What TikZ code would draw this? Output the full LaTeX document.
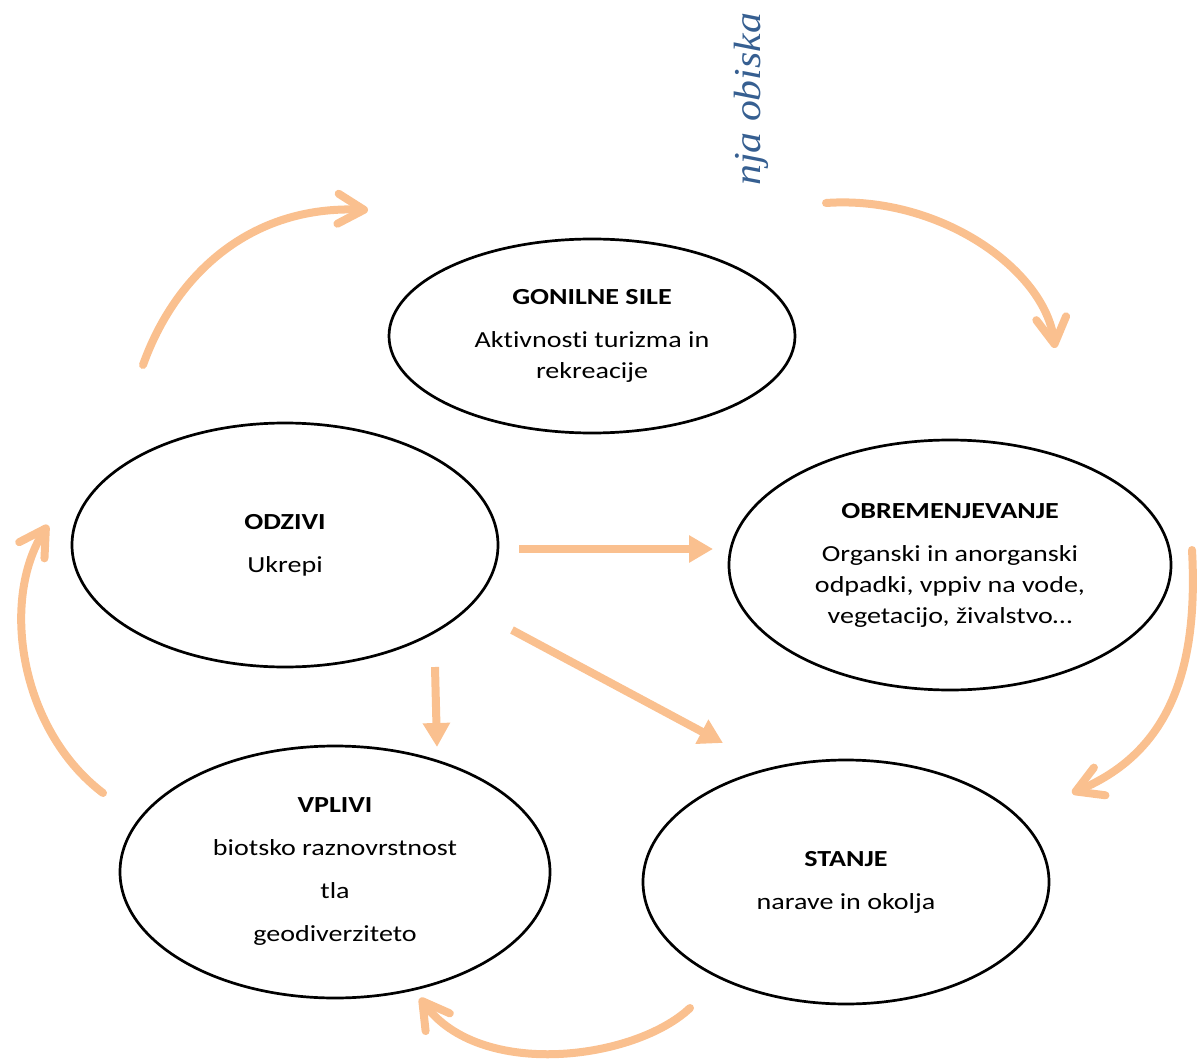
\documentclass[tikz,border=0pt]{standalone}
\usepackage{fontspec}
\setmainfont{Carlito}[FakeStretch=1.22, Ligatures=NoCommon]
\newfontfamily\headfont{Liberation Serif}[FakeStretch=1.1]
\usetikzlibrary{arrows.meta,shapes.geometric}
\definecolor{arr}{RGB}{250,192,143}
\definecolor{ttl}{RGB}{54,95,145}
\tikzset{
 stage/.style={ellipse, draw=black, line width=2.7pt, inner sep=0pt, align=center, font=\fontsize{23}{31}\selectfont},
 cyc/.style={draw=arr, line width=8pt, line cap=round, -{Straight Barb[length=26pt,width=30pt,round]}},
 push/.style={draw=arr, line width=8pt, -{Triangle[length=24pt,width=26pt]}},
}
\begin{document}
\begin{tikzpicture}[x=1pt,y=-1pt]
\useasboundingbox (0,0) rectangle (1197,1059);
% stages
\node[stage, minimum width=406pt, minimum height=194pt] (gon) at (592,336) {\textbf{GONILNE SILE}\\[12pt]Aktivnosti turizma in\\rekreacije};
\node[stage, minimum width=442pt, minimum height=250pt] (obr) at (950,565) {\textbf{OBREMENJEVANJE}\\[12pt]Organski in anorganski\\odpadki, vppiv na vode,\\vegetacijo, živalstvo…};
\node[stage, minimum width=426pt, minimum height=244pt] (odz) at (285,545) {\textbf{ODZIVI}\\[12pt]Ukrepi};
\node[stage, minimum width=430pt, minimum height=252pt] (vpl) at (335,872) {\textbf{VPLIVI}\\[12pt]biotsko raznovrstnost\\[12pt]tla\\[12pt]geodiverziteto};
\node[stage, minimum width=406pt, minimum height=244pt] (sta) at (846,882) {\textbf{STANJE}\\[12pt]narave in okolja};
% rotated title fragment
\node[rotate=90, anchor=base west, inner sep=0pt, text=ttl, font=\headfont\itshape\fontsize{38}{40}\selectfont] (title) at (760,186) {nja obiska};
% cycle arrow end points
\coordinate (c1s) at (143,365); \coordinate (c1e) at (368,210);
\coordinate (c2s) at (826,203); \coordinate (c2e) at (1055,348);
\coordinate (c3s) at (1192,550); \coordinate (c3e) at (1072,793);
\coordinate (c4s) at (690,1008); \coordinate (c4e) at (420,998);
\coordinate (c5s) at (103,793); \coordinate (c5e) at (48,525);
\draw[cyc] (c1s) .. controls (175,275) and (250,205) .. (c1e);
\draw[cyc] (c2s) .. controls (940,195) and (1045,270) .. (c2e);
\draw[cyc] (c3s) .. controls (1198,660) and (1175,750) .. (c3e);
\draw[cyc] (c4s) .. controls (635,1060) and (480,1080) .. (c4e);
\draw[cyc] (c5s) .. controls (20,730) and (0,600) .. (c5e);
% straight arrows from ODZIVI
\coordinate (s1s) at (519,549); \coordinate (s1e) at (713,549);
\coordinate (s2s) at (435,667); \coordinate (s2e) at (437,747);
\coordinate (s3s) at (512,630); \coordinate (s3e) at (723,743);
\draw[push] (s1s) -- (s1e);
\draw[push] (s2s) -- (s2e);
\draw[push] (s3s) -- (s3e);
\end{tikzpicture}
\end{document}
